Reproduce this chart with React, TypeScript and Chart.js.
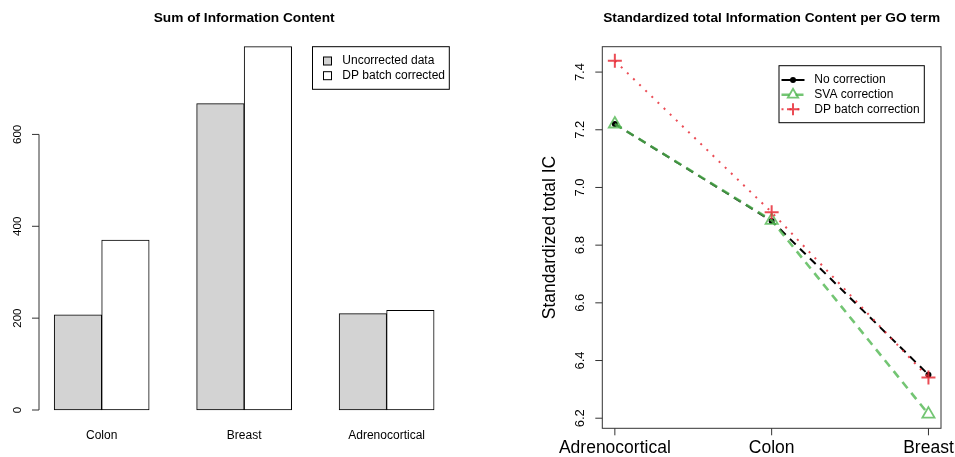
import React, { useEffect, useRef } from 'react';
import { Chart, registerables } from 'chart.js';
Chart.register(...registerables);

// ---------- data ----------
const barCategories = ['Colon', 'Breast', 'Adrenocortical'];
const uncorrectedIC = [207, 667, 210];
const dpCorrectedIC = [370, 791, 217];
const barYTicks = [0, 200, 400, 600];
const barLegend = ['Uncorrected data', 'DP batch corrected'];

const lineCategories = ['Adrenocortical', 'Colon', 'Breast'];
const noCorrection = [7.22, 6.884, 6.351];
const svaCorrection = [7.22, 6.886, 6.214];
const dpCorrection = [7.439, 6.914, 6.341];
const lineYTicks = [6.2, 6.4, 6.6, 6.8, 7.0, 7.2, 7.4];
const lineLegend = ['No correction', 'SVA correction', 'DP batch correction'];

const FONT = '"Liberation Sans", Arial, Helvetica, sans-serif';
const GREEN = 'rgba(80,182,80,0.8)';
const RED = 'rgba(232,45,55,0.85)';

const barX = (i: number) => 2 + 3 * i;

function rotText(ctx: CanvasRenderingContext2D, text: string, x: number, y: number) {
  ctx.save();
  ctx.translate(x, y);
  ctx.rotate(-Math.PI / 2);
  ctx.textAlign = 'center';
  ctx.textBaseline = 'middle';
  ctx.fillText(text, 0, 0);
  ctx.restore();
}

const leftDecor = {
  id: 'leftDecor',
  afterDraw(chart: any) {
    const ctx: CanvasRenderingContext2D = chart.ctx;
    const { left, right, bottom } = chart.chartArea;
    const xs = chart.scales.x;
    const ys = chart.scales.y;
    ctx.save();
    ctx.fillStyle = '#000';
    ctx.strokeStyle = '#333';
    ctx.lineWidth = 1;
    // y axis
    const y0 = ys.getPixelForValue(barYTicks[0]);
    const y1 = ys.getPixelForValue(barYTicks[barYTicks.length - 1]);
    ctx.beginPath();
    ctx.moveTo(left, y0);
    ctx.lineTo(left, y1);
    barYTicks.forEach((t) => {
      const py = ys.getPixelForValue(t);
      ctx.moveTo(left, py);
      ctx.lineTo(left - 7, py);
    });
    ctx.stroke();
    ctx.font = `11.5px ${FONT}`;
    barYTicks.forEach((t) => rotText(ctx, String(t), left - 21, ys.getPixelForValue(t)));
    // x labels
    ctx.font = `12px ${FONT}`;
    ctx.textAlign = 'center';
    ctx.textBaseline = 'middle';
    barCategories.forEach((c, i) => ctx.fillText(c, xs.getPixelForValue(barX(i)), bottom + 26));
    // title
    ctx.font = `bold 13.7px ${FONT}`;
    ctx.fillText('Sum of Information Content', (left + right) / 2, 18.5);
    // legend
    const lx0 = 312.5, lx1 = 449.3, ly0 = 46.7, ly1 = 89.3;
    ctx.strokeStyle = '#000';
    ctx.strokeRect(lx0, ly0, lx1 - lx0, ly1 - ly0);
    const fills = ['#D3D3D3', '#FFFFFF'];
    const rows = [61, 75.7];
    ctx.font = `12px ${FONT}`;
    ctx.textAlign = 'left';
    barLegend.forEach((lab, i) => {
      ctx.fillStyle = fills[i];
      ctx.fillRect(323.5, rows[i] - 4, 8, 8);
      ctx.strokeRect(323.5, rows[i] - 4, 8, 8);
      ctx.fillStyle = '#000';
      ctx.fillText(lab, 342.3, rows[i]);
    });
    ctx.restore();
  },
};

function drawPoint(ctx: CanvasRenderingContext2D, kind: string, x: number, y: number, color: string) {
  ctx.save();
  ctx.setLineDash([]);
  ctx.strokeStyle = color;
  ctx.fillStyle = color;
  if (kind === 'circle') {
    ctx.beginPath();
    ctx.arc(x, y, 3, 0, Math.PI * 2);
    ctx.fill();
  } else if (kind === 'triangle') {
    ctx.lineWidth = 1.8;
    const r = 6;
    ctx.beginPath();
    ctx.moveTo(x, y - r);
    ctx.lineTo(x + r * 0.866, y + r * 0.5);
    ctx.lineTo(x - r * 0.866, y + r * 0.5);
    ctx.closePath();
    ctx.stroke();
  } else {
    ctx.lineWidth = 2;
    const r = 6;
    ctx.beginPath();
    ctx.moveTo(x - r, y);
    ctx.lineTo(x + r, y);
    ctx.moveTo(x, y - r);
    ctx.lineTo(x, y + r);
    ctx.stroke();
  }
  ctx.restore();
}

const rightDecor = {
  id: 'rightDecor',
  afterDraw(chart: any) {
    const ctx: CanvasRenderingContext2D = chart.ctx;
    const { left, right, top, bottom } = chart.chartArea;
    const xs = chart.scales.x;
    const ys = chart.scales.y;
    ctx.save();
    ctx.strokeStyle = '#333';
    ctx.fillStyle = '#000';
    ctx.lineWidth = 1;
    ctx.strokeRect(left, top, right - left, bottom - top);
    ctx.beginPath();
    lineYTicks.forEach((t) => {
      const py = ys.getPixelForValue(t);
      ctx.moveTo(left, py);
      ctx.lineTo(left - 7, py);
    });
    lineCategories.forEach((_, i) => {
      const px = xs.getPixelForValue(i + 1);
      ctx.moveTo(px, bottom);
      ctx.lineTo(px, bottom + 7);
    });
    ctx.stroke();
    ctx.font = `13px ${FONT}`;
    lineYTicks.forEach((t) => rotText(ctx, t.toFixed(1), left - 22.3, ys.getPixelForValue(t)));
    ctx.font = `17.5px ${FONT}`;
    ctx.textAlign = 'center';
    ctx.textBaseline = 'middle';
    lineCategories.forEach((c, i) => ctx.fillText(c, xs.getPixelForValue(i + 1), bottom + 20));
    rotText(ctx, 'Standardized total IC', 73, (top + bottom) / 2);
    ctx.font = `bold 13.7px ${FONT}`;
    ctx.textAlign = 'center';
    ctx.fillText('Standardized total Information Content per GO term', (left + right) / 2, 18.5);
    // legend
    const lx0 = 302, lx1 = 447.3, ly0 = 65.7, ly1 = 122.7;
    ctx.strokeStyle = '#000';
    ctx.strokeRect(lx0, ly0, lx1 - lx0, ly1 - ly0);
    const rows = [80, 94.7, 109.3];
    const colors = ['#000', GREEN, RED];
    const dashes = [[8, 6], [8, 6], [2, 6]];
    const widths = [2, 2.6, 2];
    const kinds = ['circle', 'triangle', 'cross'];
    lineLegend.forEach((lab, i) => {
      ctx.save();
      ctx.strokeStyle = colors[i];
      ctx.lineWidth = widths[i];
      ctx.setLineDash(i === 0 ? [] : dashes[i]);
      ctx.beginPath();
      ctx.moveTo(304.5, rows[i]);
      ctx.lineTo(327.5, rows[i]);
      ctx.stroke();
      ctx.restore();
      drawPoint(ctx, kinds[i], 316, rows[i], colors[i]);
      ctx.fillStyle = '#000';
      ctx.font = `12px ${FONT}`;
      ctx.textAlign = 'left';
      ctx.textBaseline = 'middle';
      ctx.fillText(lab, 337.3, rows[i]);
    });
    ctx.restore();
  },
};

export default function App() {
  const leftRef = useRef<HTMLCanvasElement>(null);
  const rightRef = useRef<HTMLCanvasElement>(null);

  useEffect(() => {
    const yMaxBar = Math.max(...uncorrectedIC, ...dpCorrectedIC);
    const left = new Chart(leftRef.current!, {
      type: 'bar',
      data: {
        datasets: [
          {
            label: barLegend[0],
            data: uncorrectedIC.map((v, i) => ({ x: barX(i), y: v })),
            backgroundColor: '#D3D3D3',
            borderColor: '#000',
            borderWidth: 1,
            borderSkipped: false,
            barThickness: 47.5,
            clip: false,
          } as any,
          {
            label: barLegend[1],
            data: dpCorrectedIC.map((v, i) => ({ x: barX(i), y: v })),
            backgroundColor: '#FFFFFF',
            borderColor: '#000',
            borderWidth: 1,
            borderSkipped: false,
            barThickness: 47.5,
            clip: false,
          } as any,
        ],
      },
      options: {
        animation: false,
        responsive: false,
        events: [],
        layout: { padding: { left: 39, right: 477 - 449.3, top: 46.7, bottom: 457 - 410 } },
        plugins: { legend: { display: false }, tooltip: { enabled: false } },
        scales: {
          x: { type: 'linear', min: 0.68, max: 9.32, offset: false, display: false },
          y: { type: 'linear', min: 0, max: yMaxBar, display: false },
        },
      },
      plugins: [leftDecor],
    });

    const allY = [...noCorrection, ...svaCorrection, ...dpCorrection];
    const yMin = Math.min(...allY), yMax = Math.max(...allY);
    const yPad = (yMax - yMin) * 0.04;
    const right = new Chart(rightRef.current!, {
      type: 'line',
      data: {
        datasets: [
          {
            label: lineLegend[0],
            data: noCorrection.map((v, i) => ({ x: i + 1, y: v })),
            borderColor: '#000',
            backgroundColor: '#000',
            borderWidth: 2,
            borderDash: [8, 6],
            pointStyle: 'circle',
            pointRadius: 3,
            pointBorderWidth: 0,
            pointBackgroundColor: '#000',
            order: 3,
            clip: false,
          } as any,
          {
            label: lineLegend[1],
            data: svaCorrection.map((v, i) => ({ x: i + 1, y: v })),
            borderColor: GREEN,
            backgroundColor: 'rgba(0,0,0,0)',
            borderWidth: 2.6,
            borderDash: [8, 6],
            pointStyle: 'triangle',
            pointRadius: 7,
            pointBorderWidth: 1.8,
            pointBorderColor: GREEN,
            pointBackgroundColor: 'rgba(0,0,0,0)',
            order: 2,
            clip: false,
          } as any,
          {
            label: lineLegend[2],
            data: dpCorrection.map((v, i) => ({ x: i + 1, y: v })),
            borderColor: RED,
            backgroundColor: RED,
            borderWidth: 2,
            borderDash: [2, 6.5],
            pointStyle: 'cross',
            pointRadius: 7,
            pointBorderWidth: 2,
            pointBorderColor: RED,
            order: 1,
            clip: false,
          } as any,
        ],
      },
      options: {
        animation: false,
        responsive: false,
        events: [],
        layout: { padding: { left: 125.3, right: 478 - 464, top: 46.7, bottom: 457 - 428.3 } },
        plugins: { legend: { display: false }, tooltip: { enabled: false } },
        scales: {
          x: { type: 'linear', min: 1 - 0.08, max: lineCategories.length + 0.08, display: false },
          y: { type: 'linear', min: yMin - yPad, max: yMax + yPad, display: false },
        },
      },
      plugins: [rightDecor],
    });
    return () => {
      left.destroy();
      right.destroy();
    };
  }, []);

  return (
    <div style={{ position: 'absolute', left: 0, top: 0, width: 955, height: 457, background: '#fff' }}>
      <canvas ref={leftRef} width={477} height={457} style={{ position: 'absolute', left: 0, top: 0 }} />
      <canvas ref={rightRef} width={478} height={457} style={{ position: 'absolute', left: 477, top: 0 }} />
    </div>
  );
}
